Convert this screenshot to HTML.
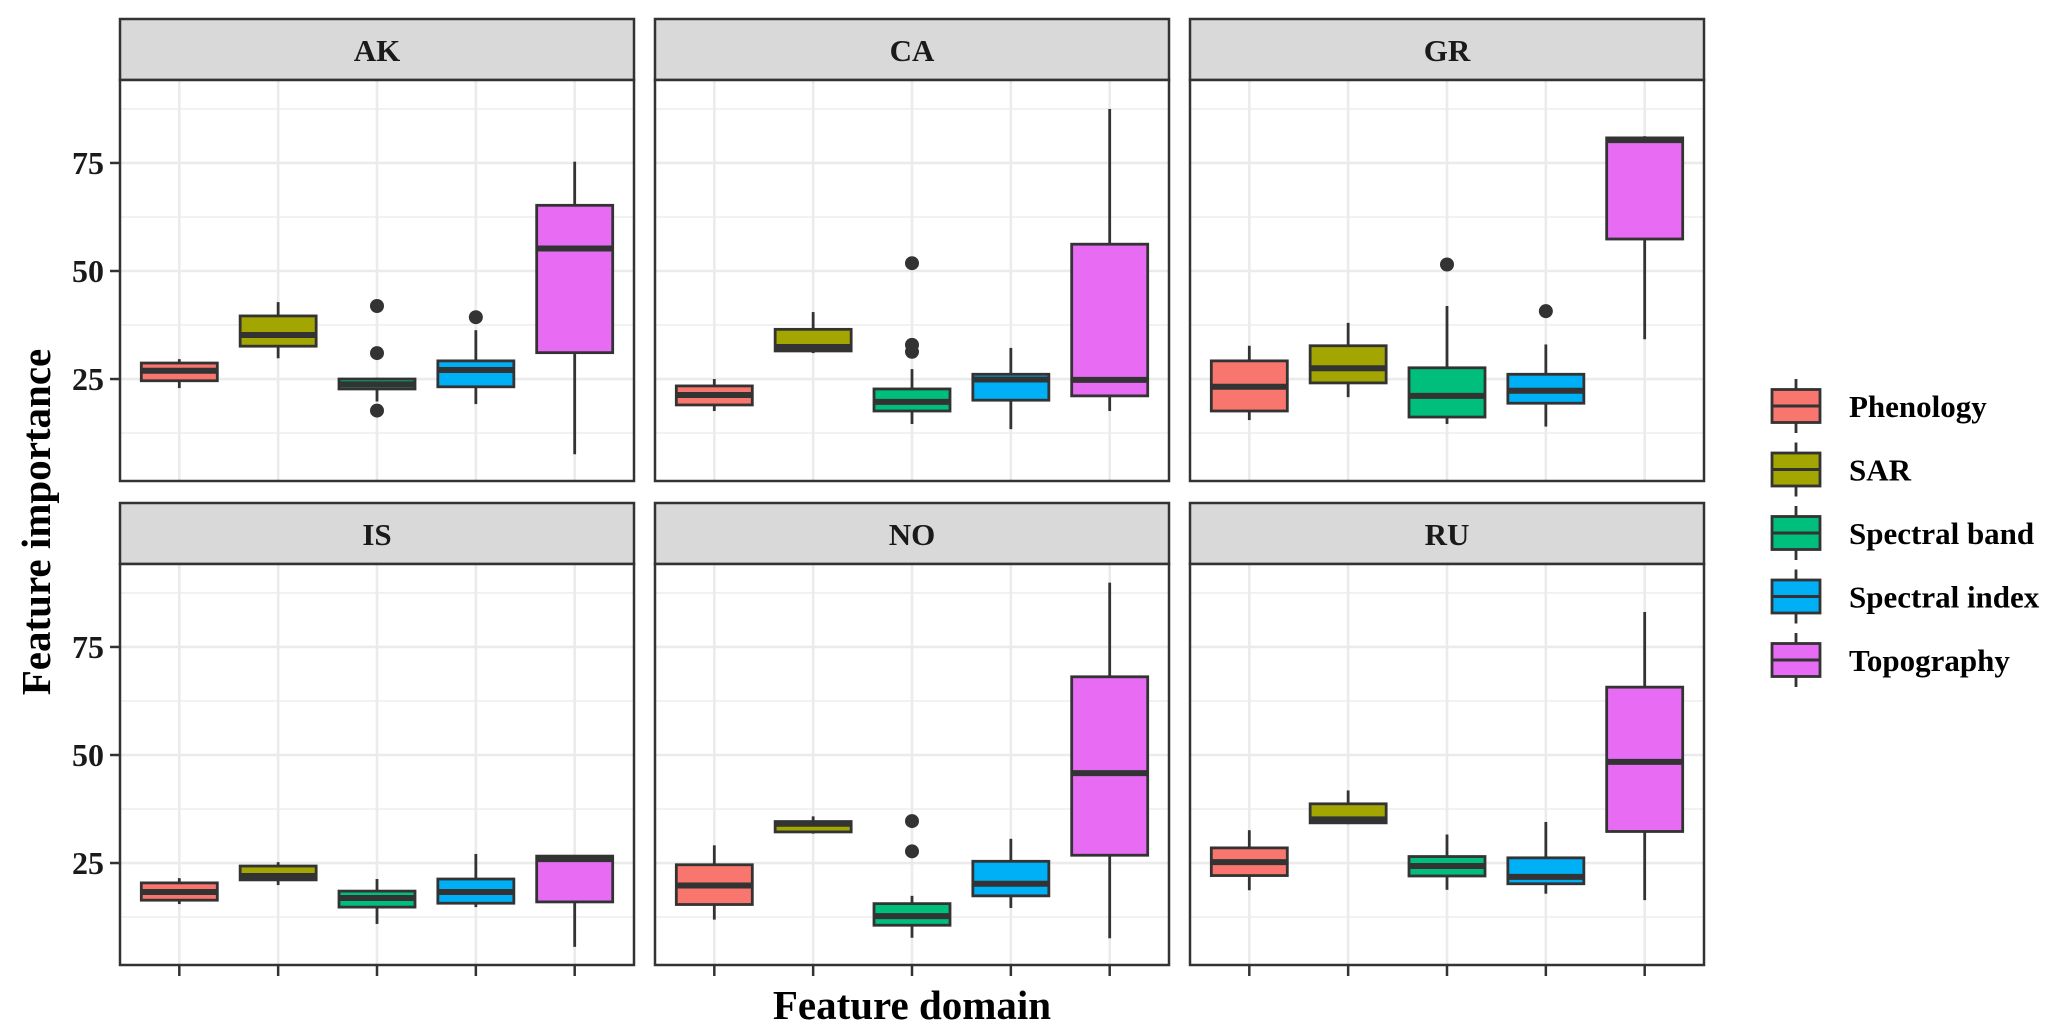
<!DOCTYPE html>
<html><head><meta charset="utf-8"><style>
html,body{margin:0;padding:0;background:#fff;}
svg{display:block;font-family:"Liberation Serif",serif;font-weight:bold;}
</style></head><body>
<svg id="chart" width="2067" height="1034" viewBox="0 0 2067 1034" xmlns="http://www.w3.org/2000/svg">
<g id="panels"></g>
<text x="912" y="1019" font-size="41" text-anchor="middle" fill="#000">Feature domain</text>
<text transform="translate(50,522) rotate(-90)" font-size="41" text-anchor="middle" fill="#000">Feature importance</text>
<g id="legend"></g>
</svg>
<script>
const regions = ["AK","CA","GR","IS","NO","RU"];
const domains = ["Phenology","SAR","Spectral band","Spectral index","Topography"];
const colors = ["#F8766D","#A3A500","#00BF7D","#00B0F6","#E76BF3"];
const yTicks = [25,50,75];
// per region: [lowerWhisker, Q1, median, Q3, upperWhisker] per domain
const statsAK = [[22.9,24.6,26.9,28.7,29.6],[29.8,32.6,35.2,39.6,42.8],[19.8,22.7,23.8,25,25.3],[19.2,23.2,27.1,29.2,36.3],[7.6,31.1,55.2,65.2,75.3]];
const statsCA = [[17.6,19.0,21.3,23.4,25],[31.0,31.5,32.4,36.5,40.5],[14.6,17.6,19.7,22.7,27.3],[13.4,20.1,24.9,26.1,32.2],[17.6,21.1,24.8,56.2,87.5]];
const statsGR = [[15.5,17.6,23.2,29.2,32.7],[20.8,24.1,27.5,32.7,38],[14.6,16.2,21.1,27.6,41.9],[14.0,19.4,22.3,26.1,33.0],[34.2,57.4,80.3,80.8,81.2]];
const statsIS = [[15.5,16.4,18.3,20.4,21.5],[19.9,21.1,22.0,24.3,25.2],[10.9,14.8,16.9,18.5,21.3],[14.8,15.7,18.3,21.3,27.1],[5.6,16.0,25.9,26.6,26.6]];
const statsNO = [[11.9,15.4,19.8,24.6,29.1],[31.8,32.2,34.1,34.6,35.8],[7.7,10.6,12.7,15.6,17.4],[14.6,17.4,20.2,25.4,30.6],[7.6,26.8,45.8,68.1,89.9]];
const statsRU = [[18.7,22.1,25.2,28.5,32.6],[34.0,34.3,35.1,38.7,41.8],[18.8,22.0,24.3,26.5,31.6],[17.9,20.2,21.8,26.2,34.5],[16.4,32.3,48.4,65.7,83.1]];
const outAK = [[],[],[41.9,31.0,17.7],[39.3],[]];
const outCA = [[],[],[51.8,32.9,31.3],[],[]];
const outGR = [[],[],[51.5],[40.7],[]];
const outIS = [[],[],[],[],[]];
const outNO = [[],[],[34.7,27.7],[],[]];
const outRU = [[],[],[],[],[]];
const allStats = [statsAK,statsCA,statsGR,statsIS,statsNO,statsRU];
const allOut = [outAK,outCA,outGR,outIS,outNO,outRU];

const NS="http://www.w3.org/2000/svg";
function mk(tag, attrs, parent){const e=document.createElementNS(NS,tag);for(const k in attrs)e.setAttribute(k,attrs[k]);parent.appendChild(e);return e;}
const panelsG=document.getElementById('panels');
const panelX=[120,655,1190], panelW=514;
const stripTop=[19,503], stripH=61, plotH=401;
const yMin=1.4, yMax=94.2;
const dark="#333333";

regions.forEach((reg,ri)=>{
  const col=ri%3,row=Math.floor(ri/3);
  const x0=panelX[col], st=stripTop[row], pt=st+stripH, pb=pt+plotH;
  const ys=v=>pb-(v-yMin)/(yMax-yMin)*plotH;
  const xs=i=>x0+panelW*(i+0.6)/5.2;
  const g=mk('g',{},panelsG);
  
  
  // strip
  const s=mk('rect',{x:x0,y:st,width:panelW,height:stripH,fill:"#D9D9D9",stroke:dark,'stroke-width':2.5},g);
  
  
  const t=mk('text',{x:x0+panelW/2,y:st+42,'font-size':31,'text-anchor':'middle',fill:'#1a1a1a'},g);
  t.textContent=reg;
  
  
  mk('rect',{x:x0,y:pt,width:panelW,height:plotH,fill:'#fff'},g);
  // minor grid
  for(let v=12.5;v<yMax;v+=25){mk('line',{x1:x0,x2:x0+panelW,y1:ys(v),y2:ys(v),stroke:'#EBEBEB','stroke-width':1.3},g);}
  yTicks.forEach(v=>{
    const gl=mk('line',{x1:x0,x2:x0+panelW,y1:ys(v),y2:ys(v),stroke:'#EBEBEB','stroke-width':2.6},g);
    
    
  });
  domains.forEach((d,i)=>{mk('line',{x1:xs(i),x2:xs(i),y1:pt,y2:pb,stroke:'#EBEBEB','stroke-width':2.6},g);});
  // boxes
  const st5=allStats[ri], outs=allOut[ri];
  domains.forEach((d,i)=>{
    const [lo,q1,md,q3,hi]=st5[i];
    const cx=xs(i), bw=76;
    const bg=mk('g',{},g);
    
    
    mk('line',{x1:cx,x2:cx,y1:ys(hi),y2:ys(q3),stroke:dark,'stroke-width':2.8},bg);
    mk('line',{x1:cx,x2:cx,y1:ys(q1),y2:ys(lo),stroke:dark,'stroke-width':2.8},bg);
    mk('rect',{x:cx-bw/2,y:ys(q3),width:bw,height:Math.max(ys(q1)-ys(q3),0.1),fill:colors[i],stroke:dark,'stroke-width':2.8},bg);
    mk('line',{x1:cx-bw/2,x2:cx+bw/2,y1:ys(md),y2:ys(md),stroke:dark,'stroke-width':6},bg);
    outs[i].forEach(v=>{
      const c=mk('circle',{cx:cx,cy:ys(v),r:7,fill:dark},bg);
      
      
    });
  });
  const b=mk('rect',{x:x0,y:pt,width:panelW,height:plotH,fill:'none',stroke:dark,'stroke-width':2.5},g);
  
  
  if(col===0){
    yTicks.forEach(v=>{
      mk('line',{x1:x0-10,x2:x0,y1:ys(v),y2:ys(v),stroke:dark,'stroke-width':2.5},g);
      const tl=mk('text',{x:x0-16,y:ys(v)+11,'font-size':32,'text-anchor':'end',fill:'#1a1a1a'},g);
      tl.textContent=v;
      
      
    });
  }
  if(row===1){
    domains.forEach((d,i)=>{
      const tk=mk('line',{x1:xs(i),x2:xs(i),y1:pb,y2:pb+11,stroke:dark,'stroke-width':2.5},g);
      
      
    });
  }
});
// legend
const lg=document.getElementById('legend');
domains.forEach((d,i)=>{
  const cy=406+i*63.5, cx=1796;
  const e=mk('g',{},lg);
  
  
  mk('line',{x1:cx,x2:cx,y1:cy-27,y2:cy+27,stroke:dark,'stroke-width':2.8},e);
  mk('rect',{x:cx-24,y:cy-16.5,width:48,height:33,fill:colors[i],stroke:dark,'stroke-width':2.8},e);
  mk('line',{x1:cx-24,x2:cx+24,y1:cy,y2:cy,stroke:dark,'stroke-width':3},e);
  const tx=mk('text',{x:1849,y:cy+11,'font-size':31,fill:'#000'},e);
  tx.textContent=d;
});
</script>
</body></html>
